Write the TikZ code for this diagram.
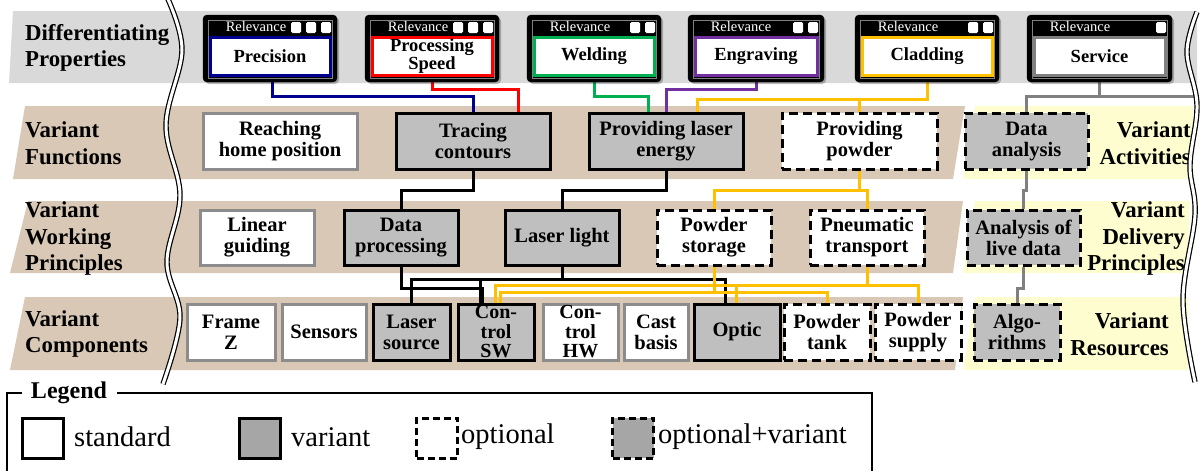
\documentclass[tikz,border=0pt]{standalone}
\usepackage{fontspec}
\setmainfont{Liberation Serif}
\usetikzlibrary{shadows}
\definecolor{bandgray}{HTML}{D9D9D9}
\definecolor{bandbrown}{HTML}{D8C8B5}
\definecolor{bandyellow}{HTML}{FDFDCF}
\definecolor{boxgray}{HTML}{BFBFBF}
\definecolor{legray}{HTML}{A6A6A6}
\definecolor{stdline}{HTML}{8C8C8C}
\definecolor{wblue}{HTML}{00008F}
\definecolor{wred}{HTML}{FF0000}
\definecolor{wgreen}{HTML}{00B050}
\definecolor{wpurple}{HTML}{7030A0}
\definecolor{wyellow}{HTML}{FFC000}
\definecolor{wgray}{HTML}{808080}
\pgfdeclarelayer{bg}
\pgfdeclarelayer{mid}
\pgfdeclarelayer{top}
\pgfsetlayers{bg,mid,main,top}

% #1 name, #2 left, #3 right, #4 number of squares, #5 colour, #6 text
\newcommand{\relbox}[6]{%
  \pgfmathsetmacro{\rbx}{(#2+#3)/2}%
  \pgfmathsetmacro{\rbw}{#3-#2}%
  \pgfmathsetmacro{\rbiw}{#3-#2-14}%
  \node[relframe, minimum width=\rbw pt] (#1O) at (\rbx,48.5) {};
  \draw[gray, line width=0.8pt] (#2+5,20) rectangle (#3-5,78);
  \node[reltitle] (#1T) at (#2+53,27) {Relevance};
  \foreach \k in {1,...,#4} {\fill[white, rounded corners=1.5pt] (#3-1-15*\k,22) rectangle ++(10,11);}
  \node[relinner, draw=#5, minimum width=\rbiw pt] (#1) at (\rbx,56) {#6};
}

\begin{document}
\begin{tikzpicture}[x=1pt,y=-1pt,
  boxbase/.style={rectangle, line width=3pt, align=center, inner sep=1pt,
    font=\bfseries\fontsize{20.5}{21}\selectfont},
  stdbox/.style={boxbase, draw=stdline, fill=white},
  varbox/.style={boxbase, draw=black, fill=boxgray},
  optbox/.style={boxbase, draw=black, fill=white, dash pattern=on 9pt off 5pt},
  optvarbox/.style={boxbase, draw=black, fill=boxgray, dash pattern=on 9pt off 5pt},
  r2/.style={minimum height=56pt},
  r3/.style={minimum height=55pt},
  r4/.style={minimum height=56pt},
  tight/.style={font=\bfseries\fontsize{20}{19.5}\selectfont},
  relframe/.style={rectangle, fill=black, draw=black, rounded corners=4pt, minimum height=67pt, inner sep=0,
    drop shadow={shadow xshift=2pt, shadow yshift=-2pt, fill=black, opacity=0.25}},
  reltitle/.style={text=white, inner sep=0, font=\fontsize{14.5}{14.5}\selectfont},
  relinner/.style={rectangle, fill=white, line width=3pt, minimum height=38pt, inner sep=0, align=center,
    font=\bfseries\fontsize{18.5}{18.5}\selectfont},
  rowlabel/.style={align=left, anchor=west, inner sep=0, font=\bfseries\fontsize{22.8}{26.5}\selectfont},
  rightlabel/.style={align=right, anchor=east, inner sep=0, font=\bfseries\fontsize{22.8}{26.5}\selectfont},
  wire/.style={line width=3pt},
  wave/.style={line width=1.2pt, draw=black, double=white, double distance=3pt},
  legbox/.style={rectangle, line width=3pt, minimum width=41pt, minimum height=40pt, inner sep=0},
  legtext/.style={anchor=west, inner sep=0, font=\fontsize{28.5}{28.5}\selectfont}
]
\useasboundingbox (0,0) rectangle (1203,471);

% ---------- bands ----------
\begin{pgfonlayer}{bg}
\fill[bandgray] (13,11) -- (1197,11) -- (1197,83) -- (9,83) -- cycle;
\fill[bandbrown] (25,106) -- (965,106) -- (953,179) -- (13,179) -- cycle;
\fill[bandyellow] (975,106) -- (1193,106) -- (1193,179) -- (963,179) -- cycle;
\fill[bandbrown] (28,201) -- (963,201) -- (953,273) -- (10,273) -- cycle;
\fill[bandyellow] (975,201) -- (1190,201) -- (1187,273) -- (963,273) -- cycle;
\fill[bandbrown] (25,297) -- (963,297) -- (955,370) -- (10,370) -- cycle;
\fill[bandyellow] (975,297) -- (1188,297) -- (1188,370) -- (963,370) -- cycle;
\end{pgfonlayer}

% ---------- row labels ----------
\node[rowlabel] (lDP) at (25,48) {Differentiating\\Properties};
\node[rowlabel] (lVF) at (25,143) {Variant\\Functions};
\node[rowlabel] (lVW) at (25,239) {Variant\\Working\\Principles};
\node[rowlabel] (lVC) at (25,334) {Variant\\Components};
\node[rightlabel] (lVA) at (1191,143) {Variant\\Activities};
\node[rightlabel] (lVD) at (1185,239) {Variant\\Delivery\\Principles};
\node[rightlabel] (lVR) at (1169,334) {Variant\\Resources};

% ---------- differentiating properties ----------
\relbox{prec}{203}{337}{3}{wblue}{Precision}
\relbox{pspeed}{365}{499}{3}{wred}{\fontsize{18.5}{17.5}\selectfont Processing\\Speed}
\relbox{weld}{527}{661}{2}{wgreen}{Welding}
\relbox{engr}{688}{824}{2}{wpurple}{Engraving}
\relbox{clad}{855}{999}{2}{wyellow}{Cladding}
\relbox{serv}{1027}{1172}{1}{wgray}{Service}

% ---------- variant functions ----------
\node[stdbox, r2, minimum width=154pt] (reach) at (280,141) {Reaching\\home position};
\node[varbox, r2, minimum width=154pt] (tracing) at (473,141) {Tracing\\contours};
\node[varbox, r2, minimum width=154pt] (ple) at (666,141) {Providing laser\\energy};
\node[optbox, r2, minimum width=155pt] (powder) at (859.5,141) {Providing\\powder};
\node[optvarbox, r2, minimum width=123pt] (dataan) at (1026.5,141) {Data\\analysis};

% ---------- working principles ----------
\node[stdbox, r3, minimum width=114pt] (linear) at (257,237.5) {Linear\\guiding};
\node[varbox, r3, minimum width=114pt] (dataproc) at (401,237.5) {Data\\processing};
\node[varbox, r3, minimum width=114pt] (laserlight) at (562,237.5) {Laser light};
\node[optbox, r3, minimum width=114pt] (pstorage) at (714,237.5) {Powder\\storage};
\node[optbox, r3, minimum width=114pt] (pneum) at (867,237.5) {Pneumatic\\transport};
\node[optvarbox, r3, minimum width=113pt] (analysis) at (1023.5,237.5) {Analysis of\\live data};

% ---------- components ----------
\node[stdbox, r4, minimum width=88pt] (frame) at (231,332) {Frame\\Z};
\node[stdbox, r4, minimum width=84pt] (sensors) at (324,332) {Sensors};
\node[varbox, r4, minimum width=77pt] (lsource) at (411.5,332) {Laser\\source};
\node[varbox, r4, tight, minimum width=76pt] (csw) at (496,332) {Con-\\trol\\SW};
\node[stdbox, r4, tight, minimum width=75pt] (chw) at (580.5,332) {Con-\\trol\\HW};
\node[stdbox, r4, minimum width=64pt] (cast) at (656,332) {Cast\\basis};
\node[varbox, r4, minimum width=86pt] (optic) at (737,332) {Optic};
\node[optbox, r4, minimum width=86pt] (ptank) at (827,332) {Powder\\tank};
\node[optbox, r4, minimum width=86pt] (psupply) at (918,332) {Powder\\supply};
\node[optvarbox, r4, minimum width=86pt] (algo) at (1017,332) {Algo-\\rithms};

% ---------- connectors ----------
\coordinate (sright) at (1197,96);
\begin{pgfonlayer}{mid}
\draw[wire, wblue] ([xshift=2pt]prec.south) -- ++(0,20) -| (tracing.north);
\draw[wire, wred] (pspeed.south) -- ++(0,13) -| ([xshift=45pt]tracing.north);
\draw[wire, wgreen] (weld.south) -- ++(0,20) -| ([xshift=-18pt]ple.north);
\draw[wire, wpurple] (engr.south) -- ++(0,13) -| (ple.north);
\draw[wire, wyellow] (clad.south) -- ++(0,23) coordinate (cy) -| ([xshift=31pt]ple.north);
\draw[wire, wyellow] (cy -| powder.north) -- (powder.north);
\draw[wire, wgray] (serv.south) -- ++(0,21);
\draw[wire, wgray] (dataan.north) |- (sright);

\draw[wire] (tracing.south) -- ++(0,20) -| (dataproc.north);
\draw[wire] (ple.south) -- ++(0,20) -| (laserlight.north);
\draw[wire, wyellow] (powder.south) -- ++(0,20) coordinate (py) -| (pstorage.north);
\draw[wire, wyellow] (py) -| (pneum.north);
\draw[wire, wgray] (dataan.south) -- ++(0,20) -| (analysis.north);
\draw[wire, wgray] (analysis.south) -- ++(0,22) -| (algo.north);

\draw[wire] (laserlight.south) -- ++(0,13) coordinate (ll) -| (lsource.north);
\draw[wire] (ll) -| ([xshift=-16pt]csw.north);
\draw[wire] (ll) -| ([xshift=-12pt]optic.north);
\draw[wire] (dataproc.south) -- ++(0,22) -| ([xshift=-14pt]csw.north);
\draw[wire, wyellow] (pneum.south) -- ++(0,19) coordinate (pn) -| ([xshift=-1pt]csw.north);
\draw[wire, wyellow] (pn) -| (psupply.north);
\draw[wire, wyellow] (pn) -| ([xshift=-1pt]optic.north);
\draw[wire, wyellow] (pstorage.south) -- ++(0,26) coordinate (ps) -| ([xshift=4pt]csw.north);
\draw[wire, wyellow] (ps) -| (ptank.north);
\end{pgfonlayer}

% ---------- waves ----------
\begin{pgfonlayer}{top}
\draw[wave] plot[smooth, tension=0.6] coordinates {(167,-3) (182,50) (166,125) (180,195) (167,262) (180,318) (163,384)};
\draw[wave] plot[smooth, tension=0.6] coordinates {(1197,12) (1187,52) (1197,105) (1190,165) (1195,215) (1183,300) (1195,382)};
\end{pgfonlayer}

% ---------- legend ----------
\node[inner sep=0, font=\bfseries\fontsize{24}{24}\selectfont] (legtitle) at (69,393) {Legend};
\coordinate (lgA) at (7,472);
\coordinate (lgB) at (872,472);
\draw[line width=1.5pt] (lgA) |- ([xshift=-9pt]legtitle.west);
\draw[line width=1.5pt] ([xshift=10pt]legtitle.east) -| (lgB);
\node[legbox, draw=black, fill=white] (ls) at (42.5,438) {};
\node[legtext] (lst) at (74,437) {standard};
\node[legbox, draw=black, fill=legray] (lv) at (260,438) {};
\node[legtext] (lvt) at (291,437) {variant};
\node[legbox, draw=black, fill=white, dash pattern=on 7pt off 4pt] (lo) at (437,438) {};
\node[legtext] (lot) at (461,437) {optional};
\node[legbox, draw=black, fill=legray, dash pattern=on 7pt off 4pt] (lov) at (633,438) {};
\node[legtext] (lovt) at (658,437) {optional+variant};
\end{tikzpicture}
\end{document}
